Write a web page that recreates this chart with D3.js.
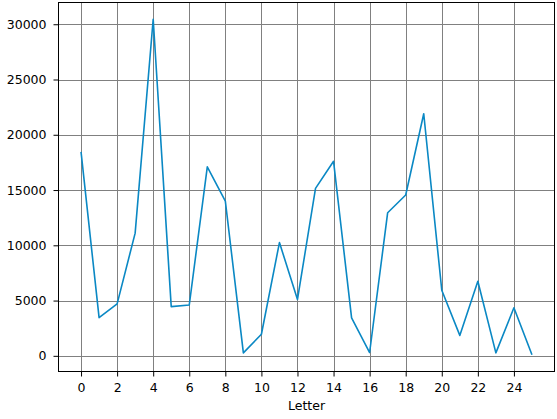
<!DOCTYPE html>
<html>
<head>
<meta charset="utf-8">
<script src="https://cdn.jsdelivr.net/npm/d3@7"></script>
<style>
  body { margin: 0; background: #fff; }
  svg { display: block; }
  text { font-family: "DejaVu Sans", sans-serif; }
</style>
</head>
<body>
<svg id="chart" width="557" height="419"></svg>
<script>
const letters = d3.range(26);
const values = [18450, 3450, 4700, 11100, 30450, 4450, 4600, 17100, 14000, 270,
                1950, 10250, 5100, 15150, 17600, 3430, 300, 12950, 14550, 21900,
                5930, 1850, 6750, 270, 4350, 100];
const xTicks = [0, 2, 4, 6, 8, 10, 12, 14, 16, 18, 20, 22, 24];
const yTicks = [0, 5000, 10000, 15000, 20000, 25000, 30000];
const xLabel = "Letter";

const svg = d3.select("#chart");
const m = { left: 58.5, right: 554.5, top: 2.5, bottom: 371.5 };
const fs = 12.5;

const x = d3.scaleLinear().domain([-1.25, 26.25]).range([m.left, m.right]);
const yMin = d3.min(values), yMax = d3.max(values), pad = 0.05 * (yMax - yMin);
const y = d3.scaleLinear().domain([yMin - pad, yMax + pad]).range([m.bottom, m.top]);

// grid
const g = svg.append("g");
g.selectAll(".vg").data(xTicks).join("line")
  .attr("x1", d => Math.round(x(d)) + 0.5).attr("x2", d => Math.round(x(d)) + 0.5)
  .attr("y1", m.top).attr("y2", m.bottom)
  .attr("stroke", "#808080").attr("stroke-width", 1);
g.selectAll(".hg").data(yTicks).join("line")
  .attr("y1", d => Math.round(y(d)) + 0.5).attr("y2", d => Math.round(y(d)) + 0.5)
  .attr("x1", m.left).attr("x2", m.right)
  .attr("stroke", "#808080").attr("stroke-width", 1);

// line
const line = d3.line().x((d, i) => x(letters[i])).y(d => y(d));
svg.append("path").datum(values)
  .attr("d", line).attr("fill", "none")
  .attr("stroke", "#0a88c4").attr("stroke-width", 1.6)
  .attr("stroke-linejoin", "round").attr("stroke-linecap", "butt");

// frame
svg.append("rect").attr("x", m.left).attr("y", m.top)
  .attr("width", m.right - m.left).attr("height", m.bottom - m.top)
  .attr("fill", "none").attr("stroke", "#000").attr("stroke-width", 1);

// axes
const xAxis = d3.axisBottom(x).tickValues(xTicks).tickSize(5).tickPadding(7).tickFormat(d3.format("d"));
const yAxis = d3.axisLeft(y).tickValues(yTicks).tickSize(5).tickPadding(7).tickFormat(d3.format("d"));
const xa = svg.append("g").attr("transform", `translate(0,${m.bottom})`).call(xAxis);
const ya = svg.append("g").attr("transform", `translate(${m.left},0)`).call(yAxis);
[xa, ya].forEach(a => {
  a.select(".domain").remove();
  a.selectAll("text").attr("font-size", fs).attr("fill", "#000")
    .attr("font-family", "DejaVu Sans, sans-serif");
  a.selectAll("line").attr("stroke", "#000");
});

svg.append("text").attr("x", (m.left + m.right) / 2).attr("y", 410)
  .attr("text-anchor", "middle").attr("font-size", fs).attr("fill", "#000")
  .text(xLabel);
</script>
</body>
</html>
